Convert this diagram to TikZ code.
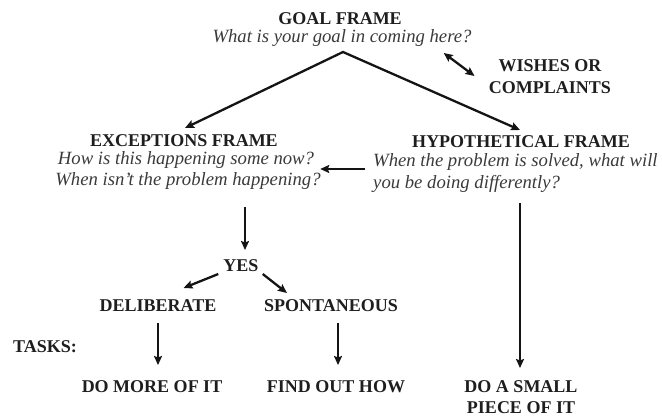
\documentclass[tikz,border=0pt]{standalone}
\usepackage{fontspec}
\setmainfont{Liberation Serif}
\usetikzlibrary{arrows.meta,calc}
\definecolor{headc}{HTML}{1E1E1E}
\definecolor{quesc}{HTML}{3A3A3A}
\begin{document}
\begin{tikzpicture}[x=1pt,y=-1pt,
  head/.style={anchor=base,inner sep=0pt,font=\fontsize{18}{18}\selectfont\bfseries,text=headc},
  ques/.style={anchor=base,inner sep=0pt,font=\fontsize{18.7}{18.7}\selectfont\itshape,text=quesc},
  arr/.style={line width=2.3pt,draw=black!92,line join=miter,-{Stealth[length=9pt,width=8pt,inset=1.5pt]}},
  darr/.style={line width=2.3pt,draw=black!92,line join=miter,{Stealth[length=9pt,width=8pt,inset=1.5pt]}-{Stealth[length=9pt,width=8pt,inset=1.5pt]}}]
\useasboundingbox (0,0) rectangle (662,417);

\node[head] (goal) at (340,25) {GOAL FRAME};
\node[ques] (goalq) at (342,43) {What is your goal in coming here?};
\node[head] (wish1) at (550,72) {WISHES OR};
\node[head] (wish2) at (550,94) {COMPLAINTS};
\node[head] (exch) at (184,147) {EXCEPTIONS FRAME};
\node[ques] (excq1) at (186,165) {How is this happening some now?};
\node[ques] (excq2) at (188,186) {When isn't the problem happening?};
\node[head] (hyph) at (521,148) {HYPOTHETICAL FRAME};
\node[ques,anchor=base west] (hypq1) at (373,167) {When the problem is solved, what will};
\node[ques,anchor=base west] (hypq2) at (373,189) {you be doing differently?};
\node[head] (yes) at (241,271) {YES};
\node[head] (del) at (158,311) {DELIBERATE};
\node[head] (spon) at (331,311) {SPONTANEOUS};
\node[head] (tasks) at (45,352) {TASKS:};
\node[head] (more) at (152,392) {DO MORE OF IT};
\node[head] (find) at (336,392) {FIND OUT HOW};
\node[head] (small1) at (521,392) {DO A SMALL};
\node[head] (small2) at (521,413) {PIECE OF IT};

\coordinate (apex) at (343,52);
\draw[darr] ($(exch.base)+(1,-19)$) -- (apex) -- ($(hyph.base)+(-1,-18)$);
\draw[darr] ($(goalq.base east)+(-28,10)$) -- ($(wish1.base west)+(-24,4)$);
\draw[arr] ($(hypq1.base west)+(-8,2)$) -- ($(excq1.base east)+(6,4)$);
\draw[arr] ($(excq2.base)+(57,21)$) -- ($(yes.base)+(4,-21)$);
\draw[arr] ($(yes.base west)+(-5,3)$) -- ($(del.base east)+(-33,-23)$);
\draw[arr] ($(yes.base east)+(4,3)$) -- ($(spon.base west)+(23,-18)$);
\draw[arr] ($(del.base)+(0,12)$) -- ($(more.base)+(6,-27)$);
\draw[arr] ($(spon.base)+(7,12)$) -- ($(find.base)+(2,-27)$);
\draw[arr] ($(hypq2.base west)+(147,14)$) -- ($(small1.base)+(-1,-24)$);
\end{tikzpicture}
\end{document}
